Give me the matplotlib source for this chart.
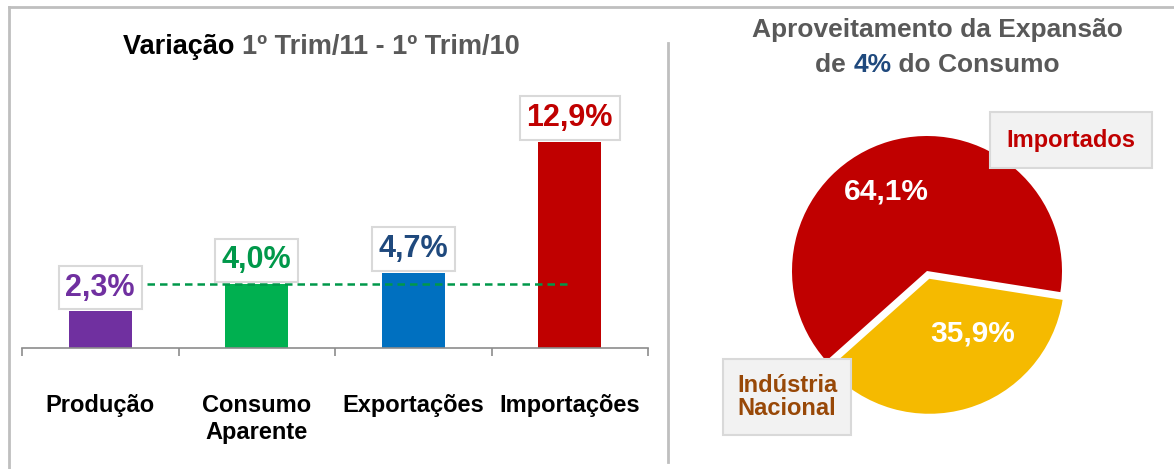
import matplotlib.pyplot as plt
from matplotlib.lines import Line2D

plt.rcParams['font.family'] = ['Liberation Sans', 'DejaVu Sans']
plt.rcParams['font.weight'] = 'bold'

# data
categorias = ['Produção', 'Consumo\nAparente', 'Exportações', 'Importações']
variacao = [2.3, 4.0, 4.7, 12.9]
cores_barras = ['#7030A0', '#00B050', '#0070C0', '#C00000']
cores_rotulos = ['#7030A0', '#00984A', '#1F497D', '#C00000']
consumo_ref = 4.0

fatias = ['Importados', 'Indústria\nNacional']
participacao = [64.1, 35.9]
cores_fatias = ['#C00000', '#F5BA00']

W, H = 1174, 469
fig = plt.figure(figsize=(W / 100, H / 100), dpi=100)


def px(x0, y0, x1, y1):
    # pixel box (top-left origin) -> figure fraction rect
    return [x0 / W, 1 - y1 / H, (x1 - x0) / W, (y1 - y0) / H]


def frac(x, y):
    return x / W, 1 - y / H


# moldura e divisoria
cinza = '#BFBFBF'
fig.add_artist(Line2D([9 / W, 1], [1 - 7 / H] * 2, color=cinza, lw=2, transform=fig.transFigure))
fig.add_artist(Line2D([9 / W] * 2, [0, 1 - 7 / H], color=cinza, lw=2, transform=fig.transFigure))
fig.add_artist(Line2D([667.5 / W] * 2, [1 - 462 / H, 1 - 43 / H], color=cinza, lw=2, transform=fig.transFigure))


def titulo_colorido(partes, cx, cy, size):
    renderer = fig.canvas.get_renderer()
    textos = []
    larg = 0
    for s, c in partes:
        t = fig.text(0, 0, s, color=c, fontsize=size, fontweight='bold', va='center', ha='left')
        w = t.get_window_extent(renderer).width
        textos.append((t, w))
        larg += w
    x = cx - larg / 2
    for t, w in textos:
        t.set_position(frac(x, cy))
        x += w


# ---- barras ----
ax = fig.add_axes(px(22, 124, 648, 348))
x = range(len(categorias))
ax.bar(x, variacao, width=0.4, color=cores_barras, zorder=2)
ax.set_xlim(-0.5, len(categorias) - 0.5)
ax.set_ylim(0, 14)
for s in ['top', 'right', 'left']:
    ax.spines[s].set_visible(False)
ax.spines['bottom'].set_color('#8C8C8C')
ax.spines['bottom'].set_linewidth(1.2)
ax.set_yticks([])
ax.set_xticks([i - 0.5 for i in range(len(categorias) + 1)])
ax.set_xticklabels([])
ax.tick_params(axis='x', which='major', length=6, color='#8C8C8C', width=1.2, direction='out')
ax.set_xticks(list(x), minor=True)
ax.set_xticklabels(categorias, minor=True, fontsize=17, fontweight='bold', va='top', linespacing=1.25)
ax.tick_params(axis='x', which='minor', length=0, pad=33)

ax.axhline(consumo_ref, xmin=0.2, xmax=0.87, color='#00984A', lw=1.8, ls=(0, (3, 2)), zorder=3)

for i, v in enumerate(variacao):
    ax.annotate(f'{v:.1f}%'.replace('.', ','), (i, v), xytext=(0, 17), textcoords='offset points',
                ha='center', va='center', fontsize=22, fontweight='bold', color=cores_rotulos[i],
                bbox=dict(boxstyle='square,pad=0.22', fc='white', ec='#D9D9D9', lw=1.5), zorder=4)

titulo_colorido([('Variação ', 'black'), ('1º Trim/11 - 1º Trim/10', '#595959')], 321, 47, 19.5)

# ---- pizza ----
r = 135
cx, cy = 927, 271
axp = fig.add_axes(px(cx - 150, cy - 150, cx + 150, cy + 150))
wedges, _, autos = axp.pie(participacao, colors=cores_fatias, startangle=-9, explode=[0, 0.06],
                           autopct=lambda p: f'{p:.1f}%'.replace('.', ','),
                           textprops=dict(color='white', fontsize=21.5, fontweight='bold'),
                           wedgeprops=dict(lw=0))
axp.set_xlim(-150 / r, 150 / r)
axp.set_ylim(-150 / r, 150 / r)
autos[0].set_position((-0.30, 0.59))
autos[1].set_position((0.34, -0.46))
for t in autos:
    t.set_ha('center')
    t.set_va('center')

caixa = dict(boxstyle='square,pad=0.68', fc='#F2F2F2', ec='#D9D9D9', lw=1.5)
fig.text(*frac(1071, 140), fatias[0], ha='center', va='center', fontsize=17, fontweight='bold',
         color='#C00000', bbox=caixa)
fig.text(*frac(737, 397), fatias[1], ha='left', va='center', fontsize=17, fontweight='bold',
         color='#984807', linespacing=1.05, bbox=dict(caixa, boxstyle='square,pad=0.6'))

titulo_colorido([('Aproveitamento da Expansão', '#595959')], 937.5, 30, 19)
titulo_colorido([('de ', '#595959'), ('4%', '#1F497D'), (' do Consumo', '#595959')], 937.5, 65, 19)

fig.savefig('out.png', dpi=100)
